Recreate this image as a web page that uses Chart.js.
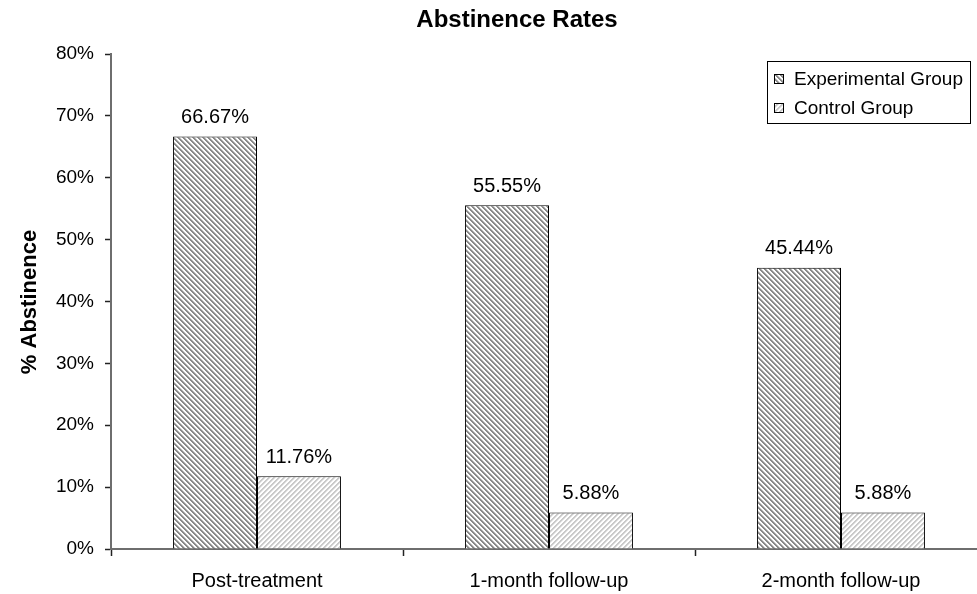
<!DOCTYPE html>
<html>
<head>
<meta charset="utf-8">
<title>Abstinence Rates</title>
<script src="https://cdn.jsdelivr.net/npm/chart.js@4.4.1/dist/chart.umd.min.js"></script>
<style>
  html, body { margin: 0; padding: 0; background: #fff; overflow: hidden; }
  #chart { display: block; }
</style>
</head>
<body>
<canvas id="chart" width="990" height="594"></canvas>
<script>
// ── Data ─────────────────────────────────────
const categories = ['Post-treatment', '1-month follow-up', '2-month follow-up'];
const experimental = [66.67, 55.55, 45.44];
const control = [11.76, 5.88, 5.88];
const seriesNames = ['Experimental Group', 'Control Group'];
const yTicks = [0, 10, 20, 30, 40, 50, 60, 70, 80];

const FONT = "'Liberation Sans', Arial, sans-serif";

// ── Hatch patterns (\\\ for experimental, /// for control) ──
function makeHatch(dir, dark, mid) {
    const P = 5;
    const c = document.createElement('canvas');
    c.width = P; c.height = P;
    const g = c.getContext('2d');
    for (let y = 0; y < P; y++) {
        for (let x = 0; x < P; x++) {
            const t = (((dir === 'back' ? x - y : x + y) % P) + P) % P;
            g.fillStyle = t < 2 ? dark : (t === 2 ? mid : '#ffffff');
            g.fillRect(x, y, 1, 1);
        }
    }
    return g.createPattern(c, 'repeat');
}

const ctx = document.getElementById('chart').getContext('2d');
const expFill = makeHatch('back', '#8a8a8a', '#c2c2c2');
const ctlFill = makeHatch('fwd', '#cacaca', '#e6e6e6');

// ── Labels, title, legend drawn by hand ──────
const decorations = {
    id: 'decorations',
    afterDatasetsDraw(chart) {
        const c = chart.ctx;
        c.save();
        // value labels above bars
        c.fillStyle = '#000';
        c.font = '20px ' + FONT;
        c.textAlign = 'center';
        c.textBaseline = 'bottom';
        chart.data.datasets.forEach((ds, i) => {
            chart.getDatasetMeta(i).data.forEach((bar, j) => {
                c.fillText(ds.data[j].toFixed(2) + '%', bar.x, bar.y - 9);
            });
        });

        // chart title
        c.font = 'bold 24px ' + FONT;
        c.textBaseline = 'middle';
        c.fillText('Abstinence Rates', 517, 20);

        // y axis title
        c.font = 'bold 22px ' + FONT;
        c.save();
        c.translate(30, 302);
        c.rotate(-Math.PI / 2);
        c.fillText('% Abstinence', 0, 0);
        c.restore();

        // legend
        const lx = 767, ly = 61, lw = 203, lh = 62;
        c.fillStyle = '#fff';
        c.fillRect(lx, ly, lw, lh);
        c.strokeStyle = '#000';
        c.lineWidth = 1;
        c.strokeRect(lx + 0.5, ly + 0.5, lw, lh);
        const fills = [expFill, ctlFill];
        c.font = '19px ' + FONT;
        c.textAlign = 'left';
        seriesNames.forEach((name, i) => {
            const cy = ly + 18 + i * 29;
            c.fillStyle = fills[i];
            c.fillRect(774, cy - 5, 10, 10);
            c.strokeStyle = '#000';
            c.strokeRect(774.5, cy - 4.5, 9, 9);
            c.fillStyle = '#000';
            c.fillText(name, 794, cy + 1);
        });
        c.restore();
    }
};

// ── Chart ────────────────────────────────────
new Chart(ctx, {
    type: 'bar',
    data: {
        labels: categories,
        datasets: [
            { label: seriesNames[0], data: experimental, backgroundColor: expFill,
              borderColor: '#000', borderWidth: 1 },
            { label: seriesNames[1], data: control, backgroundColor: ctlFill,
              borderColor: '#000', borderWidth: 1 }
        ]
    },
    options: {
        responsive: false,
        animation: false,
        devicePixelRatio: 1,
        layout: { padding: { left: 0, right: 3, top: 54, bottom: 0 } },
        datasets: { bar: { categoryPercentage: 0.575, barPercentage: 1.0 } },
        plugins: {
            legend: { display: false },
            title: { display: false },
            tooltip: { enabled: false }
        },
        scales: {
            x: {
                grid: { display: true, drawOnChartArea: false, offset: true,
                        tickLength: 7, tickColor: '#222', tickWidth: 1.5 },
                border: { color: '#6e6e6e', width: 2 },
                ticks: { color: '#000', font: { family: FONT, size: 20 }, padding: 13 },
                afterFit(s) { s.height = 45; }
            },
            y: {
                min: 0,
                max: yTicks[yTicks.length - 1],
                afterBuildTicks(s) { s.ticks = yTicks.map(v => ({ value: v })); },
                grid: { display: true, drawOnChartArea: false,
                        tickLength: 6, tickColor: '#222', tickWidth: 1.5 },
                border: { color: '#6e6e6e', width: 2 },
                ticks: {
                    color: '#000',
                    font: { family: FONT, size: 19 },
                    padding: 11,
                    callback: v => v + '%'
                },
                afterFit(s) { s.width = 111; }
            }
        }
    },
    plugins: [decorations]
});
</script>
</body>
</html>
